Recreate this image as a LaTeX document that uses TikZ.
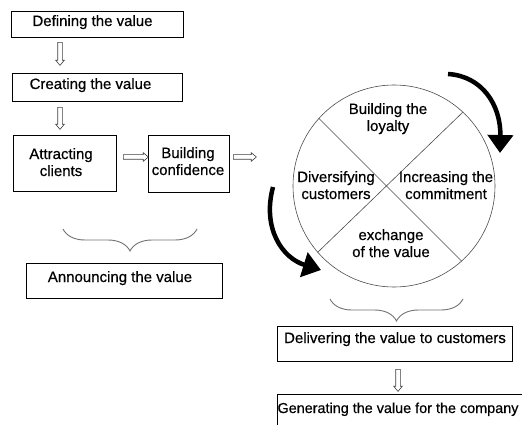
\documentclass[tikz,border=0pt]{standalone}
\usepackage{fontspec}
\setmainfont{Liberation Sans}
\newfontfamily\labelfont{Liberation Sans}[FakeBold=0.5]
\usetikzlibrary{shapes.arrows,arrows.meta,decorations.pathreplacing}
\begin{document}
\begin{tikzpicture}[x=1pt,y=-1pt,
  stagebox/.style={draw=black, line width=0.8pt, inner sep=0pt},
  lbl/.style={font=\labelfont\fontsize{15}{17}\selectfont, inner sep=0pt, anchor=base, align=center},
  hollow/.style={single arrow, draw=black!75, line width=0.6pt, inner sep=2pt,
    single arrow head extend=2pt, single arrow tip angle=80,
    text height=0pt, text depth=0pt, font=\tiny},
  grp/.style={decorate, decoration={brace, amplitude=22pt}, draw=black!55, line width=0.9pt},
  cycle/.style={line width=4.5pt, -{Triangle[width=25pt,length=18pt]}},
  wheel/.style={draw=black!70, line width=0.6pt},
]
\useasboundingbox (0,0) rectangle (522,425);
\fill[white] (0,0) rectangle (522,425);
\begin{scope}
\clip (0,0) rectangle (522,425);

% left column of stages (two-line labels are placed by their last baseline)
\node[stagebox, minimum width=172pt, minimum height=26pt] (def) at (97,24) {};
\node[lbl] (deft) at (92.5,26) {Defining the value};
\node[stagebox, minimum width=170pt, minimum height=28pt] (cre) at (97,87) {};
\node[lbl] (cret) at (90.5,89) {Creating the value};
\node[stagebox, minimum width=103pt, minimum height=56pt] (att) at (64.5,163) {};
\node[lbl] (attt) at (61,176) {Attracting\\clients};
\node[stagebox, minimum width=81pt, minimum height=57pt] (con) at (188.5,163.5) {};
\node[lbl] (cont) at (188,175) {Building\\confidence};

% hollow arrows between stages
\node[hollow, rotate=-90, minimum height=23pt] (h1) at (60,52.5) {};
\node[hollow, rotate=-90, minimum height=22pt] (h2) at (60,117) {};
\node[hollow, minimum height=25pt] (h3) at (134.5,157) {};
\node[hollow, minimum height=23pt] (h4) at (243.5,157) {};

% grouping of the first stages
\coordinate (bl1) at (197,229);
\coordinate (bl2) at (63,229);
\draw[grp] (bl1) -- (bl2);
\node[stagebox, minimum width=196pt, minimum height=35pt] (ann) at (124,280.5) {};
\node[lbl] (annt) at (120,282) {Announcing the value};

% loyalty wheel
\node[wheel, circle, minimum size=202pt, inner sep=0pt] (circ) at (394,186) {};
\draw[wheel] (circ.138) -- (circ.312);
\draw[wheel] (circ.47) -- (circ.221);
\node[lbl] (wtop) at (388,131) {Building the\\loyalty};
\node[lbl] (wleft) at (336,199) {Diversifying\\customers};
\node[lbl] (wright) at (446,199) {Increasing the\\commitment};
\node[lbl] (wbot) at (391,257) {exchange\\of the value};

% rotation arrows around the wheel
\coordinate (cwA) at (448,74);
\coordinate (cwB) at (500,153);
\draw[cycle] (cwA) .. controls (482,76) and (501,105) .. (cwB);
\coordinate (ccA) at (273,187);
\coordinate (ccB) at (321,270);
\draw[cycle] (ccA) .. controls (262,228) and (282,258) .. (ccB);

% delivery and result
\coordinate (br1) at (463,299);
\coordinate (br2) at (330,299);
\draw[grp] (br1) -- (br2);
\node[stagebox, minimum width=235pt, minimum height=35pt] (del) at (394.5,343.5) {};
\node[lbl] (delt) at (395,343) {Delivering the value to customers};
\node[hollow, rotate=-90, minimum height=22pt] (h5) at (398,379) {};
\node[stagebox, minimum width=283pt, minimum height=66pt] (gen) at (418.5,427) {};
\node[lbl, font=\labelfont\fontsize{14.4}{17}\selectfont] (gent) at (398,413) {Generating the value for the company};
\end{scope}
\end{tikzpicture}
\end{document}
